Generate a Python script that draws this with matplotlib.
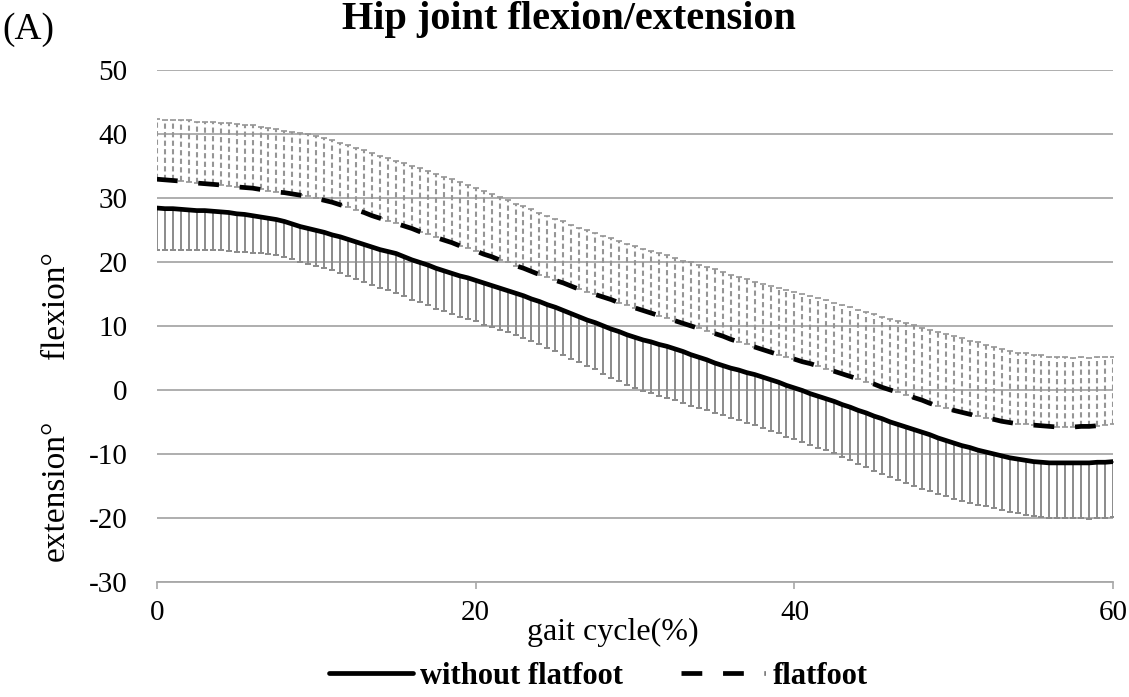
# import packages
import numpy as np
import matplotlib.pyplot as plt

plt.rcParams['font.family'] = ['Liberation Serif', 'DejaVu Serif']
plt.rcParams['axes.unicode_minus'] = False

# gait cycle (%), one point every 0.5 %
cycle = np.arange(0, 60.5, 0.5)

# without flatfoot: mean angle and SD (drawn downward)
normal_mean = [
    28.4, 28.3, 28.3, 28.2, 28.1, 28.0, 28.0, 27.9, 27.8, 27.7,
    27.5, 27.4, 27.2, 27.0, 26.8, 26.6, 26.3, 25.9, 25.5, 25.2,
    24.9, 24.6, 24.2, 23.9, 23.5, 23.1, 22.7, 22.3, 21.9, 21.6,
    21.3, 20.8, 20.3, 19.9, 19.5, 19.0, 18.6, 18.2, 17.8, 17.5,
    17.1, 16.7, 16.3, 15.9, 15.5, 15.1, 14.7, 14.2, 13.8, 13.3,
    12.9, 12.4, 11.9, 11.4, 10.9, 10.5, 10.0, 9.5, 9.1, 8.6,
    8.2, 7.8, 7.5, 7.1, 6.8, 6.4, 6.0, 5.5, 5.1, 4.7,
    4.2, 3.8, 3.4, 3.1, 2.7, 2.4, 2.0, 1.6, 1.2, 0.7,
    0.3, -0.1, -0.6, -1.0, -1.4, -1.8, -2.3, -2.7, -3.2, -3.6,
    -4.1, -4.5, -5.0, -5.4, -5.8, -6.2, -6.6, -7.0, -7.5, -7.9,
    -8.3, -8.7, -9.0, -9.4, -9.7, -10.0, -10.3, -10.6, -10.8, -11.0,
    -11.2, -11.3, -11.4, -11.4, -11.4, -11.4, -11.4, -11.4, -11.3, -11.3,
    -11.2]
normal_sd = [
    6.5, 6.4, 6.4, 6.3, 6.3, 6.2, 6.1, 6.1, 6.0, 6.0,
    5.9, 5.9, 5.8, 5.7, 5.6, 5.6, 5.5, 5.5, 5.5, 5.5,
    5.5, 5.5, 5.5, 5.6, 5.7, 5.8, 5.8, 5.9, 6.0, 6.0,
    6.1, 6.1, 6.2, 6.2, 6.2, 6.3, 6.3, 6.3, 6.4, 6.4,
    6.4, 6.5, 6.5, 6.5, 6.5, 6.6, 6.6, 6.6, 6.6, 6.7,
    6.8, 6.9, 7.0, 7.1, 7.2, 7.3, 7.5, 7.6, 7.7, 7.8,
    7.9, 7.9, 8.0, 8.0, 8.0, 8.0, 8.0, 8.0, 7.9, 7.9,
    7.8, 7.8, 7.8, 7.8, 7.9, 7.9, 8.0, 8.0, 8.0, 8.0,
    8.0, 8.0, 8.0, 8.0, 8.0, 8.1, 8.2, 8.3, 8.3, 8.4,
    8.5, 8.6, 8.6, 8.7, 8.7, 8.8, 8.8, 8.8, 8.7, 8.7,
    8.7, 8.6, 8.6, 8.6, 8.5, 8.5, 8.5, 8.5, 8.5, 8.5,
    8.5, 8.5, 8.6, 8.6, 8.6, 8.6, 8.6, 8.7, 8.7, 8.7,
    8.7]

# flatfoot: mean angle and SD (drawn upward)
flat_mean = [
    32.9, 32.8, 32.7, 32.6, 32.5, 32.3, 32.2, 32.1, 32.0, 31.9,
    31.7, 31.6, 31.5, 31.3, 31.1, 30.9, 30.8, 30.6, 30.4, 30.2,
    29.9, 29.6, 29.3, 28.9, 28.6, 28.1, 27.7, 27.2, 26.8, 26.4,
    26.0, 25.6, 25.2, 24.7, 24.3, 23.8, 23.4, 23.0, 22.5, 22.1,
    21.7, 21.2, 20.8, 20.3, 19.9, 19.4, 19.0, 18.5, 18.0, 17.6,
    17.1, 16.7, 16.2, 15.7, 15.3, 14.9, 14.5, 14.1, 13.6, 13.2,
    12.8, 12.4, 12.0, 11.6, 11.2, 10.8, 10.4, 10.0, 9.6, 9.2,
    8.8, 8.4, 7.9, 7.5, 7.1, 6.7, 6.3, 5.9, 5.5, 5.2,
    4.8, 4.4, 4.1, 3.7, 3.3, 2.9, 2.5, 2.1, 1.7, 1.3,
    0.9, 0.4, 0.0, -0.4, -0.8, -1.2, -1.6, -2.1, -2.5, -2.8,
    -3.2, -3.5, -3.8, -4.1, -4.4, -4.6, -4.9, -5.1, -5.3, -5.4,
    -5.5, -5.6, -5.7, -5.8, -5.8, -5.8, -5.7, -5.7, -5.6, -5.5,
    -5.4]
flat_sd = [
    9.4, 9.4, 9.5, 9.5, 9.6, 9.6, 9.6, 9.7, 9.7, 9.8,
    9.8, 9.8, 9.8, 9.8, 9.8, 9.8, 9.7, 9.7, 9.7, 9.7,
    9.7, 9.7, 9.7, 9.7, 9.7, 9.7, 9.8, 9.8, 9.8, 9.8,
    9.8, 9.8, 9.8, 9.9, 9.9, 9.9, 9.9, 9.9, 9.9, 9.9,
    9.9, 9.9, 9.8, 9.8, 9.8, 9.7, 9.7, 9.7, 9.6, 9.6,
    9.6, 9.6, 9.6, 9.6, 9.6, 9.6, 9.6, 9.6, 9.6, 9.6,
    9.6, 9.6, 9.7, 9.7, 9.8, 9.8, 9.8, 9.9, 9.9, 10.0,
    10.0, 10.0, 10.1, 10.1, 10.2, 10.2, 10.3, 10.3, 10.4, 10.4,
    10.5, 10.5, 10.6, 10.6, 10.7, 10.7, 10.7, 10.8, 10.8, 10.9,
    10.9, 11.0, 11.1, 11.1, 11.2, 11.3, 11.3, 11.4, 11.5, 11.5,
    11.6, 11.6, 11.5, 11.5, 11.4, 11.3, 11.3, 11.2, 11.1, 11.1,
    11.0, 11.0, 10.9, 10.9, 10.9, 10.8, 10.8, 10.7, 10.7, 10.6,
    10.6]

x_ticks = [0, 20, 40, 60]
y_ticks = [-30, -20, -10, 0, 10, 20, 30, 40, 50]

normal_mean = np.array(normal_mean)
normal_sd = np.array(normal_sd)
flat_mean = np.array(flat_mean)
flat_sd = np.array(flat_sd)
zeros = np.zeros_like(cycle)

# create figure
fig = plt.figure(figsize=(11.29, 6.97), dpi=100)
ax = fig.add_axes([0.139, 0.165, 0.847, 0.735])

grey = '#8a8a8a'

# error bars
eb1 = ax.errorbar(cycle, normal_mean, yerr=[normal_sd, zeros], fmt='none',
                  ecolor=grey, elinewidth=1.4, capsize=2.5, capthick=1.4)
eb2 = ax.errorbar(cycle, flat_mean, yerr=[zeros, flat_sd], fmt='none',
                  ecolor='#959595', elinewidth=1.5, capsize=2.5, capthick=1.2)
eb2[2][0].set_linestyle((0, (2.5, 1.6)))

# mean curves
ax.plot(cycle, normal_mean, color='black', lw=3.4, solid_capstyle='round',
        label='without flatfoot')
ax.plot(cycle, flat_mean, color='black', lw=3.4, dashes=(4.4, 4.4),
        label='flatfoot')

# axes
ax.set_xlim(0, 60)
ax.set_ylim(-30, 50)
ax.set_xticks(x_ticks)
ax.set_yticks(y_ticks)
ax.yaxis.grid(True, color='#a8a8a8', lw=1.3)
ax.set_axisbelow(True)
for s in ['top', 'right', 'left']:
    ax.spines[s].set_visible(False)
ax.spines['bottom'].set_color('#a8a8a8')
ax.spines['bottom'].set_linewidth(1.3)
ax.tick_params(axis='y', length=0, pad=21, labelsize=21)
ax.tick_params(axis='x', length=5, width=1.2, color='#a8a8a8', pad=8, labelsize=21)

ax.set_xlabel('gait cycle(%)', fontsize=23)
ax.xaxis.set_label_coords(0.477, -0.07)

# y labels
fig.text(0.049, 0.562, 'flexion°', rotation=90, fontsize=24, ha='center', va='center')
fig.text(0.049, 0.296, 'extension°', rotation=90, fontsize=24, ha='center', va='center')

# title
fig.text(0.504, 0.958, 'Hip joint flexion/extension', fontsize=29, fontweight='bold',
         ha='center', va='baseline')
fig.text(0.002, 0.958, '(A)', fontsize=27, ha='left', va='center')

# legend
fig.legend(loc='center', bbox_to_anchor=(0.53, 0.03), ncol=2, frameon=False,
           prop={'weight': 'bold', 'size': 22}, handlelength=2.75, columnspacing=1.9,
           handletextpad=0.25, borderpad=0.1)

fig.savefig('out.png', dpi=100)
